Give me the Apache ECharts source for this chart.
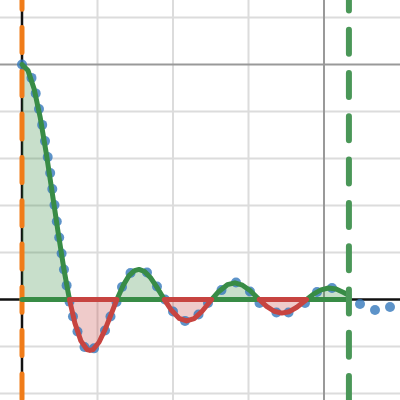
<!DOCTYPE html>
<html><head><meta charset="utf-8">
<script src="https://cdn.jsdelivr.net/npm/echarts@6/dist/echarts.min.js"></script>
<style>html,body{margin:0;padding:0;background:#fff}#c{width:400px;height:400px}</style>
</head><body><div id="c"></div>
<script>
// axis window (data units)
const XMIN = -1.457, XMAX = 25.033;
const YMIN = -0.4277, YMAX = 1.2745;

// grid ticks
const xMinorTicks = [5, 10, 15];
const xMajorTicks = [20];
const yMinorTicks = [-0.4, -0.2, 0.2, 0.4, 0.6, 0.8, 1.2];
const yMajorTicks = [1.0];

// vertical markers
const startX = 0;
const endX = 21.65;

// sampled points
const pointsX = [0, 0.629, 0.907, 1.126, 1.338, 1.523, 1.702, 1.868, 2.007, 2.152, 2.305, 2.464, 2.623, 2.781, 2.954,
  3.146, 3.377, 3.675, 4.139, 4.768, 5.497, 5.861, 6.258, 6.623, 7.185, 8.278, 8.940, 9.470, 10.000, 10.795,
  11.689, 12.318, 13.212, 14.172, 15.099, 15.728, 16.85, 17.65, 18.742, 19.536, 20.530, 22.384, 23.377, 24.371];
const pointsY = [1.0, 0.943, 0.877, 0.811, 0.743, 0.674, 0.606, 0.538, 0.470, 0.402, 0.332, 0.264, 0.196, 0.128, 0.060,
  -0.009, -0.072, -0.136, -0.202, -0.208, -0.132, -0.072, -0.011, 0.053, 0.113, 0.115, 0.055, 0.000, -0.051, -0.091,
  -0.064, -0.015, 0.040, 0.072, 0.034, -0.015, -0.055, -0.055, -0.015, 0.032, 0.049, -0.019, -0.045, -0.032];

// curve lobes (positive = green, negative = red)
const posLobes = [
  [[0,1],[0.4,0.974],[0.8,0.897],[1.2,0.777],[1.6,0.625],[2.0,0.455],[2.4,0.282],[2.8,0.120],[3.142,0]],
  [[6.283,0],[6.7,0.060],[7.1,0.103],[7.45,0.123],[7.75,0.128],[8.1,0.120],[8.5,0.094],[8.9,0.056],[9.425,0]],
  [[12.566,0],[13.0,0.032],[13.6,0.063],[14.1,0.071],[14.6,0.061],[15.1,0.038],[15.708,0]],
  [[18.850,0],[19.3,0.023],[19.8,0.041],[20.3,0.049],[20.8,0.045],[21.3,0.030],[21.65,0.018],[21.65,0]]
];
const negLobes = [
  [[3.142,0],[3.5,-0.100],[3.9,-0.176],[4.3,-0.213],[4.5,-0.217],[4.7,-0.213],[5.1,-0.182],[5.5,-0.128],[5.9,-0.063],[6.283,0]],
  [[9.425,0],[9.9,-0.046],[10.4,-0.080],[10.9,-0.091],[11.4,-0.081],[11.9,-0.052],[12.566,0]],
  [[15.708,0],[16.2,-0.029],[16.7,-0.050],[17.2,-0.058],[17.7,-0.052],[18.2,-0.033],[18.850,0]]
];

const GREEN = '#388c46', RED = '#c74440', BLUE = '#3478bb', ORANGE = '#f07c19', DASHGREEN = '#4a9758';

const series = [];
function seg(data, color, width, z, extra) {
  series.push(Object.assign({
    type: 'line', data: data, symbol: 'none', silent: true, z: z, animation: false,
    lineStyle: { color: color, width: width, cap: 'round', join: 'round' }
  }, extra || {}));
}
xMinorTicks.forEach(x => seg([[x, YMIN], [x, YMAX]], '#dcdcdc', 2, 1));
yMinorTicks.forEach(y => seg([[XMIN, y], [XMAX, y]], '#dcdcdc', 2, 1));
xMajorTicks.forEach(x => seg([[x, YMIN], [x, YMAX]], '#999999', 2, 1.5));
yMajorTicks.forEach(y => seg([[XMIN, y], [XMAX, y]], '#999999', 2, 1.5));
// axes
seg([[0, YMIN], [0, YMAX]], '#111', 2.5, 2);
seg([[XMIN, 0], [XMAX, 0]], '#111', 2.5, 2);
// fills
posLobes.forEach(l => seg(l, GREEN, 0, 3, { areaStyle: { color: 'rgba(56,140,70,0.4)', origin: 0 }, lineStyle: { width: 0, opacity: 0 } }));
negLobes.forEach(l => seg(l, RED, 0, 3, { areaStyle: { color: 'rgba(199,68,64,0.4)', origin: 0 }, lineStyle: { width: 0, opacity: 0 } }));
// orange dashed start marker
seg([[startX, YMAX], [startX, YMIN]], ORANGE, 5, 4, { lineStyle: { color: ORANGE, width: 5, cap: 'round', type: [25, 18.3], dashOffset: 15.8 } });
// points
series.push({
  type: 'scatter', z: 5, silent: true, animation: false, symbolSize: 10,
  itemStyle: { color: BLUE },
  data: pointsX.map((x, i) => [x, pointsY[i]])
});
// outlines (curve + baseline back to the lobe start)
posLobes.forEach(l => seg(l.concat([[l[0][0], 0]]), GREEN, 5, 6));
negLobes.forEach(l => seg(l.concat([[l[0][0], 0]]), RED, 5, 7));
// green dashed end marker
seg([[endX, YMAX], [endX, YMIN]], DASHGREEN, 6, 8, { lineStyle: { color: DASHGREEN, width: 6, cap: 'round', type: [24, 19.3], dashOffset: 13.6 } });

const chart = echarts.init(document.getElementById('c'), null, { renderer: 'canvas' });
chart.setOption({
  animation: false,
  grid: { left: 0, right: 0, top: 0, bottom: 0 },
  xAxis: { type: 'value', min: XMIN, max: XMAX, show: false },
  yAxis: { type: 'value', min: YMIN, max: YMAX, show: false },
  series: series
});
</script></body></html>
